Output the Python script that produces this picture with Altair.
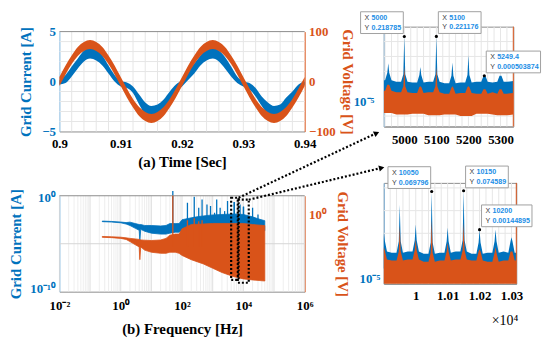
import altair as alt
import pandas as pd

BLUE = "#0072BD"
ORANGE = "#D95319"
TIP_BLUE = "#1b8ee6"
LIGHT_BLUE = "#86b9e0"
SERIF = "Liberation Serif"
SANS = "Liberation Sans"
GRID = "#e6e6e6"
GRID_MAJOR = "#d6d6d6"
FRAME = "#8c8c8c"

# ---------------- (a) time domain (band = noisy trace envelope) ----------------
time_s = [0.900, 0.901, 0.902, 0.903, 0.904, 0.905, 0.906, 0.907, 0.908, 0.909,
          0.910, 0.911, 0.912, 0.913, 0.914, 0.915, 0.916, 0.917, 0.918, 0.919,
          0.920, 0.921, 0.922, 0.923, 0.924, 0.925, 0.926, 0.927, 0.928, 0.929,
          0.930, 0.931, 0.932, 0.933, 0.934, 0.935, 0.936, 0.937, 0.938, 0.939, 0.940]
current_upper = [0.1, 0.65, 1.5, 2.3, 3.1, 3.4, 3.3, 2.6, 1.6, 0.65,
                 0.05, -0.1, -0.5, -1.3, -2.1, -2.45, -2.3, -1.8, -1.0, -0.3,
                 0.15, 1.0, 1.8, 2.6, 3.3, 3.4, 3.1, 2.45, 1.5, 0.5,
                 0.0, -0.15, -0.65, -1.5, -2.1, -2.45, -2.3, -1.6, -1.0, -0.3, 0.0]
current_lower = [-0.3, -0.15, 0.5, 1.3, 2.0, 2.3, 2.1, 1.6, 0.8, 0.0,
                 -0.5, -0.65, -1.15, -2.3, -3.3, -3.75, -3.6, -2.8, -2.0, -1.0,
                 -0.5, 0.15, 0.8, 1.6, 2.1, 2.3, 2.0, 1.3, 0.5, -0.15,
                 -0.5, -0.8, -1.5, -2.45, -3.3, -3.75, -3.6, -2.8, -2.0, -1.05, -0.3]
voltage_upper = [9, 32, 52, 69, 79, 83, 79, 69, 52, 32,
                 9, -14, -35, -51, -61, -65, -61, -51, -35, -14,
                 9, 32, 52, 69, 79, 83, 79, 69, 52, 32,
                 9, -14, -35, -51, -61, -65, -61, -51, -35, -14, 9]
voltage_lower = [-9, 14, 35, 51, 61, 65, 61, 51, 35, 14,
                 -9, -32, -52, -69, -79, -83, -79, -69, -52, -32,
                 -9, 14, 35, 51, 61, 65, 61, 51, 35, 14,
                 -9, -32, -52, -69, -79, -83, -79, -69, -52, -32, -9]
time_ticks = [0.90, 0.91, 0.92, 0.93, 0.94]
current_ticks = [-5, 0, 5]
voltage_ticks = [-100, 0, 100]

# ---------------- (b) spectrum (log10 amplitudes) ----------------
blue_f = [0.25, 0.5, 1, 1.5, 2, 3, 4, 4.2, 4.5, 6, 10, 20, 30, 40, 60, 80, 100,
          200, 300, 500, 1000, 2000, 5000, 10000, 20000, 30000, 50000]
blue_hi = [-2.64, -2.68, -2.74, -2.8, -2.75, -2.9, -3.0, -3.0, -3.0, -3.1, -3.1, -3.15,
           -3.1, -2.9, -2.9, -2.9, -2.5, -2.3, -2.2, -2.1, -2.0, -1.95, -1.9, -1.95,
           -2.2, -2.4, -2.6]
blue_lo = [-2.70, -2.74, -2.82, -2.95, -3.1, -3.4, -3.6, -4.7, -3.5, -3.7, -3.9, -4.0,
           -4.0, -3.9, -3.8, -3.8, -3.6, -3.6, -3.6, -3.6, -3.5, -3.5, -3.5, -3.5,
           -3.6, -3.6, -3.65]
blue_spike_f = [50, 150, 250, 350, 450, 650, 850, 1150, 1350, 1750, 2450, 3050,
                5000, 5100, 7800, 10050, 10150, 20000, 30000]
blue_spike = [0.5, -0.73, -0.1, -1.25, -0.39, -0.9, -1.07, -1.77, -0.39, -1.25, -1.6,
              -0.55, -0.66, -0.655, -0.9, -1.156, -1.127, -1.25, -1.95]
orange_f = [0.25, 0.5, 1, 1.5, 2, 3, 4, 4.2, 4.5, 6, 10, 20, 30, 40, 60, 80, 100,
            200, 500, 1000, 2000, 5000, 10000, 20000, 50000]
orange_hi = [-2.02, -2.05, -2.09, -2.15, -2.2, -2.25, -2.3, -2.3, -2.35, -2.37, -2.4,
             -2.35, -2.2, -1.9, -1.8, -1.8, -1.3, -0.9, -0.85, -0.8, -0.8, -0.8, -0.8,
             -0.9, -1.0]
orange_lo = [-2.1, -2.13, -2.2, -2.3, -2.5, -2.8, -3.0, -4.2, -3.0, -3.3, -3.5, -3.6,
             -3.6, -3.5, -3.5, -3.6, -3.8, -4.2, -4.6, -5.0, -5.4, -5.8, -6.0, -6.1, -6.2]
orange_spike_f = [50, 150, 250, 350, 450]
orange_spike = [1.8, -0.5, -0.3, -0.6, -0.5]
zoom_lo_hz = [4000, 6600]
zoom_hi_hz = [7000, 15000]

# ---------------- insets (log10 amplitudes) ----------------
c_band_f = [4936, 4975, 5025, 5075, 5125, 5175, 5225, 5275, 5320, 5340]
c_blue_hi = [-3.6, -3.7, -3.75, -3.7, -3.8, -3.75, -3.7, -3.75, -3.7, -3.65]
c_blue_lo = [-4.9, -4.95, -4.9, -5.0, -4.9, -4.95, -4.9, -4.85, -4.8, -4.85]
c_orange_hi = [-4.3, -4.4, -4.45, -4.4, -4.5, -4.45, -4.5, -4.4, -4.5, -4.45]
c_orange_lo = [-5.8, -5.9, -5.85, -5.95, -5.9, -6.0, -5.85, -5.9, -5.95, -5.9]
c_peak_f = [4950, 5000, 5050, 5100, 5150, 5200, 5250, 5300]
c_blue_peak = [-2.45, -0.66, -2.7, -0.655, -2.4, -1.9, -3.30, -3.3]
c_orange_peak = [-3.9, -2.7, -4.0, -2.7, -4.0, -4.0, -4.2, -4.2]
c_tips = [(5000, 0.218785, "5000", "0.218785", "left"),
          (5100, 0.221176, "5100", "0.221176", "right"),
          (5249.4, 0.000503874, "5249.4", "0.000503874", "right")]

d_band_f = [9900, 9925, 9975, 10025, 10075, 10125, 10175, 10225, 10275, 10315]
d_blue_hi = [-3.8, -3.85, -3.8, -3.9, -3.85, -3.8, -3.9, -3.85, -3.8, -3.85]
d_blue_lo = [-4.55, -4.6, -4.55, -4.6, -4.5, -4.6, -4.55, -4.6, -4.5, -4.55]
d_orange_hi = [-4.15, -4.2, -4.15, -4.25, -4.2, -4.15, -4.2, -4.25, -4.2, -4.2]
d_orange_lo = [-5.3, -5.3, -5.35, -5.3, -5.3, -5.35, -5.3, -5.3, -5.35, -5.3]
d_peak_f = [9900, 9950, 10000, 10050, 10100, 10150, 10200, 10250, 10300]
d_blue_peak = [-3.0, -1.74, -2.6, -1.156, -2.74, -1.127, -2.84, -2.83, -3.17]
d_orange_peak = [-3.6, -2.65, -3.26, -2.4, -3.4, -2.52, -3.7, -3.6, -3.8]
d_tips = [(10050, 0.069796, "10050", "0.069796", "left"),
          (10150, 0.074589, "10150", "0.074589", "right"),
          (10200, 0.00144895, "10200", "0.00144895", "right")]

one = pd.DataFrame({"k": [0]})


def band_table(band_f, band_hi, band_lo, peak_f, peak_e, skirt=0.5, half=3, foot=10):
    pts = {}
    for f, h, l in zip(band_f, band_hi, band_lo):
        pts[float(f)] = (h, l)
    for p, e in zip(peak_f, peak_e):
        j = min(range(len(band_f)), key=lambda k: abs(band_f[k] - p))
        h, l = band_hi[j], band_lo[j]
        sk = min(e, h + skirt)
        pts[float(p - foot)] = (h, l)
        pts[float(p - half)] = (sk, l)
        pts[float(p)] = (e, l)
        pts[float(p + half)] = (sk, l)
        pts[float(p + foot)] = (h, l)
    fs = sorted(pts)
    return pd.DataFrame({"f": fs,
                         "hi": [10 ** pts[f][0] for f in fs],
                         "lo": [10 ** pts[f][1] for f in fs]})


def top_edge(W, y):
    return alt.Chart(one).mark_rule(color=FRAME, strokeWidth=1).encode(
        x=alt.value(0), x2=alt.value(W), y=alt.value(y))


# ================= panel A (cell starts 5px above its plot) =================
WA, TA, HA = 248, 5, 106
xa = alt.Scale(domain=[0.9, 0.94], nice=False, zero=False)
ya = alt.Scale(domain=[-5, 5], nice=False, range=[HA, TA])
yv = alt.Scale(domain=[-100, 100], nice=False, range=[HA, TA])
xa_axis = alt.Axis(values=time_ticks, format=".2~f", title="(a) Time [Sec]",
                   labelPadding=6, titlePadding=4, domainColor=FRAME)
ya_axis = alt.Axis(values=current_ticks, title="Grid Current [A]", labelColor=BLUE,
                   titleColor=BLUE, domainColor=LIGHT_BLUE, labelPadding=4, titlePadding=8)
yv_axis = alt.Axis(orient="right", values=voltage_ticks, title="Grid Voltage [V]",
                   labelColor=ORANGE, titleColor=ORANGE, domainColor=ORANGE,
                   labelPadding=4, titlePadding=4)
XA = alt.X("t:Q", scale=xa, axis=xa_axis)
df_a = pd.DataFrame({"t": time_s, "i_hi": current_upper, "i_lo": current_lower,
                     "v_hi": voltage_upper, "v_lo": voltage_lower})
a_gx = alt.Chart(pd.DataFrame({"t": [round(0.9 + 0.002 * k, 3) for k in range(1, 20)]})
                 ).mark_rule(color=GRID).encode(x=XA, y=alt.value(TA), y2=alt.value(HA))
a_gy = alt.Chart(pd.DataFrame({"g": [-4, -3, -2, -1, 0, 1, 2, 3, 4]})
                 ).mark_rule(color=GRID).encode(y=alt.Y("g:Q", scale=ya, axis=ya_axis))
a_blue = alt.Chart(df_a).mark_area(color=BLUE, opacity=1, interpolate="monotone").encode(
    x=XA, y=alt.Y("i_lo:Q", scale=ya, axis=ya_axis), y2=alt.Y2("i_hi"))
a_orange = alt.Chart(df_a).mark_area(color=ORANGE, opacity=1, interpolate="monotone").encode(
    x=XA, y=alt.Y("v_lo:Q", scale=yv, axis=yv_axis), y2=alt.Y2("v_hi"))
panel_a = alt.layer(alt.layer(a_gx, a_gy, a_blue, top_edge(WA, TA)), a_orange).resolve_scale(
    y="independent").properties(width=WA, height=HA,
                                view=alt.ViewBackground(stroke="transparent"))

# ================= panel B (cell starts 13px above its plot) =================
WB, TB, HB = 248, 13, 110
xb = alt.Scale(type="log", domain=[1e-2, 1e6], nice=False)
yb = alt.Scale(type="log", domain=[1e-10, 1], nice=False, range=[HB, TB])
yb2 = alt.Scale(type="log", domain=[10 ** -7.2, 10 ** 1.8], nice=False, range=[HB, TB])
xb_axis = alt.Axis(values=[1e-2, 1, 1e2, 1e4, 1e6],
                   labelExpr="datum.value < 0.1 ? '10⁻²' : datum.value < 10 ? '10⁰' : datum.value < 1000 ? '10²' : datum.value < 100000 ? '10⁴' : '10⁶'",
                   title="(b) Frequency [Hz]", labelPadding=8, titlePadding=9, domainColor=FRAME)
yb_axis = alt.Axis(values=[1e-10, 1], labelExpr="datum.value < 1e-5 ? '10⁻¹⁰' : '10⁰'",
                   title="Grid Current [A]", labelColor=BLUE, titleColor=BLUE,
                   domainColor=LIGHT_BLUE, labelPadding=4, titlePadding=6,
                   labelFlush=True, labelFlushOffset=4)
yb2_axis = alt.Axis(orient="right", values=[1], labelExpr="'10⁰'", title="Grid Voltage [V]",
                    labelColor=ORANGE, titleColor=ORANGE, domainColor=ORANGE,
                    labelPadding=4, titlePadding=8)
XB = alt.X("f:Q", scale=xb, axis=xb_axis)
fgrid = [m * 10.0 ** d for d in range(-2, 6) for m in range(2, 10)]
fmajor = [1e-2, 1e-1, 1, 10, 100, 1e3, 1e4, 1e5, 1e6]
b_gx = alt.Chart(pd.DataFrame({"f": fgrid})).mark_rule(color=GRID, strokeWidth=0.7).encode(
    x=XB, y=alt.value(TB), y2=alt.value(HB))
b_gx2 = alt.Chart(pd.DataFrame({"f": fmajor})).mark_rule(color=GRID_MAJOR, strokeWidth=0.8).encode(
    x=XB, y=alt.value(TB), y2=alt.value(HB))
b_gy = alt.Chart(pd.DataFrame({"g": [1e-5]})).mark_rule(color=GRID_MAJOR).encode(
    y=alt.Y("g:Q", scale=yb, axis=yb_axis))
df_bb = pd.DataFrame({"f": blue_f, "hi": [10 ** v for v in blue_hi], "lo": [10 ** v for v in blue_lo]})
df_bs = pd.DataFrame({"f": blue_spike_f, "v": [10 ** v for v in blue_spike]})
df_ob = pd.DataFrame({"f": orange_f, "hi": [10 ** v for v in orange_hi], "lo": [10 ** v for v in orange_lo]})
df_os = pd.DataFrame({"f": orange_spike_f, "v": [10 ** v for v in orange_spike]})
b_blue = alt.Chart(df_bb).mark_area(color=BLUE, opacity=1, stroke=BLUE, strokeWidth=0.8).encode(
    x=XB, y=alt.Y("lo:Q", scale=yb, axis=yb_axis), y2=alt.Y2("hi"))
b_bspk = alt.Chart(df_bs).mark_rule(color=BLUE, strokeWidth=1.3).encode(
    x=XB, y=alt.Y("v:Q", scale=yb, axis=yb_axis), y2=alt.datum(10 ** -3.4))
b_orange = alt.Chart(df_ob).mark_area(color=ORANGE, opacity=1, stroke=ORANGE, strokeWidth=0.8).encode(
    x=XB, y=alt.Y("lo:Q", scale=yb2, axis=yb2_axis), y2=alt.Y2("hi"))
b_ospk = alt.Chart(df_os).mark_rule(color=ORANGE, strokeWidth=1.3).encode(
    x=XB, y=alt.Y("v:Q", scale=yb2, axis=yb2_axis), y2=alt.datum(10 ** -3))
zoom_rects = []
for lo_hz, hi_hz, y0, y1 in [(zoom_lo_hz[0], zoom_hi_hz[0], TB + 2, TB + 85),
                             (zoom_lo_hz[1], zoom_hi_hz[1], TB + 4, TB + 88)]:
    zoom_rects.append(alt.Chart(pd.DataFrame({"f": [lo_hz], "f2": [hi_hz]})).mark_rect(
        fillOpacity=0, stroke="black", strokeWidth=2.2, strokeDash=[2, 2]).encode(
        x=XB, x2=alt.X2("f2"), y=alt.value(y0), y2=alt.value(y1)))
# connector arrows from the zoom windows to the insets
for start_hz, y0, ex, ey, ang in [(zoom_hi_hz[0], TB + 2, 320, -50, 65),
                                  (zoom_hi_hz[1], TB + 4, 325, -15, 76)]:
    zoom_rects.append(alt.Chart(pd.DataFrame({"f": [start_hz]})).mark_rule(
        color="black", strokeWidth=2.2, strokeDash=[2, 2]).encode(
        x=XB, y=alt.value(y0), x2=alt.value(ex), y2=alt.value(ey)))
    zoom_rects.append(alt.Chart(one).mark_point(
        shape="triangle", filled=True, color="black", opacity=1, size=40, angle=ang).encode(
        x=alt.value(ex), y=alt.value(ey)))
panel_b = alt.layer(alt.layer(b_gx, b_gx2, b_gy, b_blue, b_bspk, top_edge(WB, TB)),
                    alt.layer(b_orange, b_ospk), *zoom_rects).resolve_scale(
    y="independent").properties(width=WB, height=HB,
                                view=alt.ViewBackground(stroke="transparent"))


# ================= insets =================
def tip_layers(tips, X, Y):
    out = []
    for fx, fy, sx, sy, side in tips:
        d = pd.DataFrame({"f": [fx], "v": [fy]})
        w = 12 + 3.9 * max(len(sx), len(sy))
        h = 22
        if side == "left":
            x0, x1 = -w - 1, -1
        else:
            x0, x1 = 2, w + 2
        y0, y1 = -h - 3, -3
        base = alt.Chart(d)
        out.append(base.mark_rect(fill="white", stroke="#a0a0a0", strokeWidth=1,
                                  xOffset=x0, x2Offset=x1, yOffset=y0, y2Offset=y1).encode(
            x=X, x2=alt.X2("f"), y=Y, y2=alt.Y2("v")))
        out.append(base.mark_text(align="left", baseline="top", font=SANS, fontSize=7.2,
                                  color="#404040", lineBreak="\n", lineHeight=10,
                                  dx=x0 + 4, dy=y0 + 2).encode(x=X, y=Y, text=alt.value("X\nY")))
        out.append(base.mark_text(align="left", baseline="top", font=SANS, fontSize=7.2,
                                  fontWeight="bold", color=TIP_BLUE, lineBreak="\n", lineHeight=10,
                                  dx=x0 + 11, dy=y0 + 2).encode(x=X, y=Y, text=alt.value(sx + "\n" + sy)))
        out.append(base.mark_circle(size=10, color="black", opacity=1).encode(x=X, y=Y))
    return out


def inset(W, H, xdom, ydom, xticks, label_expr, ypad, xpad, band_f, bh, bl, oh, ol,
          peak_f, bpk, opk, tips, extra=None):
    xs = alt.Scale(domain=xdom, nice=False, zero=False)
    ys = alt.Scale(type="log", domain=ydom, nice=False)
    xaxis = alt.Axis(values=xticks, labelExpr=label_expr, title="", labelPadding=xpad,
                     domainColor=FRAME)
    yaxis = alt.Axis(values=[1e-5], labelExpr="'10⁻⁵'", title="", labelColor=BLUE,
                     domainColor=LIGHT_BLUE, labelPadding=ypad)
    X = alt.X("f:Q", scale=xs, axis=xaxis)
    Y = alt.Y("v:Q", scale=ys, axis=yaxis)
    vgrid = [g for g in range(int(xdom[0]) // 20 * 20, int(xdom[1]) + 1, 20) if g > xdom[0]]
    hgrid = [10.0 ** e for e in range(-6, 0)]
    layers = [
        alt.Chart(pd.DataFrame({"f": vgrid})).mark_rule(color=GRID).encode(x=X),
        alt.Chart(pd.DataFrame({"v": hgrid})).mark_rule(color=GRID, clip=True).encode(y=Y),
        alt.Chart(band_table(band_f, bh, bl, peak_f, bpk)).mark_area(
            color=BLUE, opacity=1, clip=True).encode(
            x=X, y=alt.Y("lo:Q", scale=ys, axis=yaxis), y2=alt.Y2("hi")),
        alt.Chart(band_table(band_f, oh, ol, peak_f, opk, skirt=0.4)).mark_area(
            color=ORANGE, opacity=1, clip=True).encode(
            x=X, y=alt.Y("lo:Q", scale=ys, axis=yaxis), y2=alt.Y2("hi")),
        alt.Chart(one).mark_rule(color=ORANGE, strokeWidth=1).encode(
            x=alt.value(W), y=alt.value(0), y2=alt.value(H)),
    ]
    layers += tip_layers(tips, X, Y)
    if extra is not None:
        layers.append(extra)
    return alt.layer(*layers).properties(width=W, height=H)


panel_c = inset(131, 101, [4936, 5340], [10 ** -6.7, 1], [5000, 5100, 5200, 5300],
                "format(datum.value, 'd')", 10, 7, c_band_f, c_blue_hi, c_blue_lo,
                c_orange_hi, c_orange_lo, c_peak_f, c_blue_peak, c_orange_peak, c_tips)
exp_text = alt.Chart(one).mark_text(align="right", baseline="top", font=SERIF, fontSize=14,
                                    color="black").encode(
    x=alt.value(136), y=alt.value(133), text=alt.value("×10⁴"))
panel_d = inset(134, 102, [9900, 10315], [10 ** -5.22, 10 ** -0.78], [10000, 10100, 10200, 10300],
                "format(datum.value / 10000, '.2~f')", 4, 6, d_band_f, d_blue_hi, d_blue_lo,
                d_orange_hi, d_orange_lo, d_peak_f, d_blue_peak, d_orange_peak, d_tips,
                extra=exp_text)

chart = alt.concat(panel_a, panel_c, panel_b, panel_d, columns=2,
                   spacing={"row": 52, "column": 80}, bounds="flush").properties(
    padding=0
).configure_view(stroke=FRAME, strokeWidth=1).configure_axis(
    labelFont=SERIF, titleFont=SERIF, labelFontWeight="bold", titleFontWeight="bold",
    labelFontSize=13, titleFontSize=15, ticks=False, grid=False, labelColor="black",
    titleColor="black", domainWidth=1, labelFlush=False
)

chart.save("out.html", embed_options={"renderer": "svg", "actions": False})
